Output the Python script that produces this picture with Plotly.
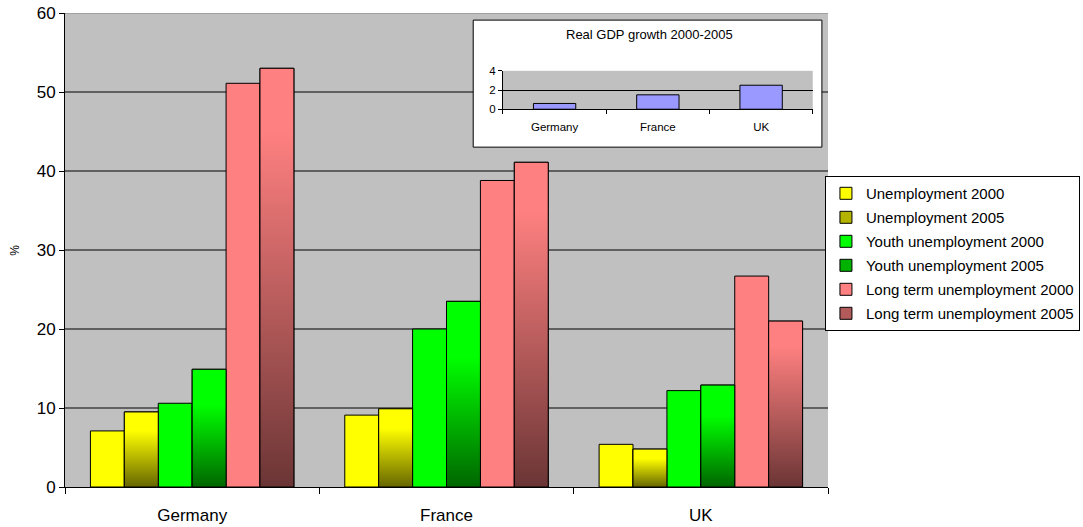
import plotly.graph_objects as go

# ---- data -------------------------------------------------------------
countries = ["Germany", "France", "UK"]

unemployment_2000 = [7.1, 9.1, 5.4]
unemployment_2005 = [9.5, 9.9, 4.8]
youth_unemployment_2000 = [10.6, 20.0, 12.2]
youth_unemployment_2005 = [14.9, 23.5, 12.9]
long_term_unemployment_2000 = [51.1, 38.8, 26.7]
long_term_unemployment_2005 = [53.0, 41.1, 21.0]

gdp_growth_2000_2005 = [0.6, 1.5, 2.5]

main_y_ticks = [0, 10, 20, 30, 40, 50, 60]
inset_y_ticks = [0, 2, 4]

# (name, values, solid colour, gradient colourscale or None)
series = [
    ("Unemployment 2000", unemployment_2000, "#FFFF00", None),
    ("Unemployment 2005", unemployment_2005, "#B3B300",
     [[0, "#666600"], [0.75, "#FFFF00"], [1, "#FFFF00"]]),
    ("Youth unemployment 2000", youth_unemployment_2000, "#00FF00", None),
    ("Youth unemployment 2005", youth_unemployment_2005, "#00B300",
     [[0, "#006600"], [0.7, "#00FF00"], [1, "#00FF00"]]),
    ("Long term unemployment 2000", long_term_unemployment_2000, "#FF8080", None),
    ("Long term unemployment 2005", long_term_unemployment_2005, "#B35A5A",
     [[0, "#6B3535"], [0.85, "#FF8080"], [1, "#FF8080"]]),
]

FONT = "Liberation Sans, Arial, Helvetica, sans-serif"
GRAY = "#C0C0C0"

positions = list(range(len(countries)))
group_width = 0.8
bar_w = group_width / len(series)

fig = go.Figure()

for i, (name, values, colour, scale) in enumerate(series):
    off = -group_width / 2 + i * bar_w
    fig.add_trace(go.Bar(
        x=positions, y=values, width=bar_w, offset=off, name=name,
        legendgroup=name,
        marker=dict(color=colour, line=dict(color="black", width=1)),
        hovertemplate="%{y}<extra>" + name + "</extra>",
    ))
    if scale is not None:
        # shaded overlay: one filled outline per bar so each bar gets
        # its own top-to-bottom gradient
        for j, (p, v) in enumerate(zip(positions, values)):
            x0, x1 = p + off, p + off + bar_w
            fig.add_trace(go.Scatter(
                x=[x0, x0, x1, x1, x0], y=[0, v, v, 0, 0],
                mode="lines", fill="toself",
                fillgradient=dict(type="vertical", colorscale=scale),
                line=dict(color="black", width=1),
                name=name, legendgroup=name, showlegend=False,
                hoverinfo="skip",
            ))

# inset: real GDP growth
fig.add_trace(go.Bar(
    x=positions, y=gdp_growth_2000_2005, width=0.41,
    xaxis="x2", yaxis="y2", showlegend=False,
    marker=dict(color="#9999FF", line=dict(color="black", width=1)),
    hovertemplate="%{y}<extra>Real GDP growth</extra>",
))

# ---- layout -------------------------------------------------------------
shapes = []
# horizontal gridlines of the main chart (kept under the inset panel)
for v in main_y_ticks[1:]:
    shapes.append(dict(type="line", xref="paper", yref="y", x0=0, x1=1,
                       y0=v, y1=v, layer="below",
                       line=dict(color="#000000" if v < 60 else "#808080", width=1)))
# white panel holding the inset chart
shapes.append(dict(type="rect", xref="paper", yref="paper",
                   x0=0.535, x1=0.992, y0=0.717, y1=0.985, layer="below",
                   fillcolor="white", line=dict(color="black", width=1)))

fig.update_layout(
    width=1083, height=527,
    margin=dict(l=65, r=255, t=13, b=40, autoexpand=False),
    paper_bgcolor="white", plot_bgcolor=GRAY,
    barmode="overlay",
    font=dict(family=FONT, color="black"),
    shapes=shapes,
    showlegend=True,
    legend=dict(x=0.996, y=0.656, xanchor="left", yanchor="top",
                bgcolor="white", bordercolor="black", borderwidth=1,
                font=dict(size=15, family=FONT), tracegroupgap=1.5,
                traceorder="grouped", itemwidth=30),
    xaxis=dict(
        range=[-0.5, 2.5], tickmode="array", tickvals=positions,
        ticktext=countries, ticks="", showgrid=False, zeroline=False,
        showline=True, linecolor="black", linewidth=1,
        tickfont=dict(size=17), ticklabelstandoff=13,
        minor=dict(tickmode="array", tickvals=[-0.5, 0.5, 1.5, 2.5],
                   ticks="outside", ticklen=6, tickcolor="black",
                   showgrid=False),
        fixedrange=True,
    ),
    yaxis=dict(
        range=[0, 60], tickmode="array", tickvals=main_y_ticks,
        ticks="outside", ticklen=5, tickcolor="black",
        showgrid=False, zeroline=False, showline=True,
        linecolor="black", linewidth=1, tickfont=dict(size=17),
        fixedrange=True,
    ),
    xaxis2=dict(
        domain=[0.574, 0.980], anchor="y2",
        range=[-0.5, 2.5], tickmode="array", tickvals=positions,
        ticktext=countries, ticks="", showgrid=False, zeroline=False,
        showline=True, linecolor="black", linewidth=1,
        tickfont=dict(size=11.5), ticklabelstandoff=7,
        minor=dict(tickmode="array", tickvals=[-0.5, 0.5, 1.5, 2.5],
                   ticks="outside", ticklen=4, tickcolor="black",
                   showgrid=False),
        fixedrange=True,
    ),
    yaxis2=dict(
        domain=[0.797, 0.878], anchor="x2",
        range=[0, 4], tickmode="array", tickvals=inset_y_ticks,
        ticks="outside", ticklen=4, tickcolor="black",
        showgrid=True, gridcolor="black", gridwidth=1,
        zeroline=False, showline=True, linecolor="black", linewidth=1,
        tickfont=dict(size=11.5), fixedrange=True,
    ),
    annotations=[
        dict(text="Real GDP growth 2000-2005", xref="paper", yref="paper",
             x=0.766, y=0.954, xanchor="center", yanchor="middle",
             showarrow=False, font=dict(size=13)),
        dict(text="%", xref="paper", yref="paper", x=-0.066, y=0.5,
             xanchor="center", yanchor="middle",
             textangle=-90, showarrow=False, font=dict(size=12)),
    ],
)

fig.write_html("out.html")
